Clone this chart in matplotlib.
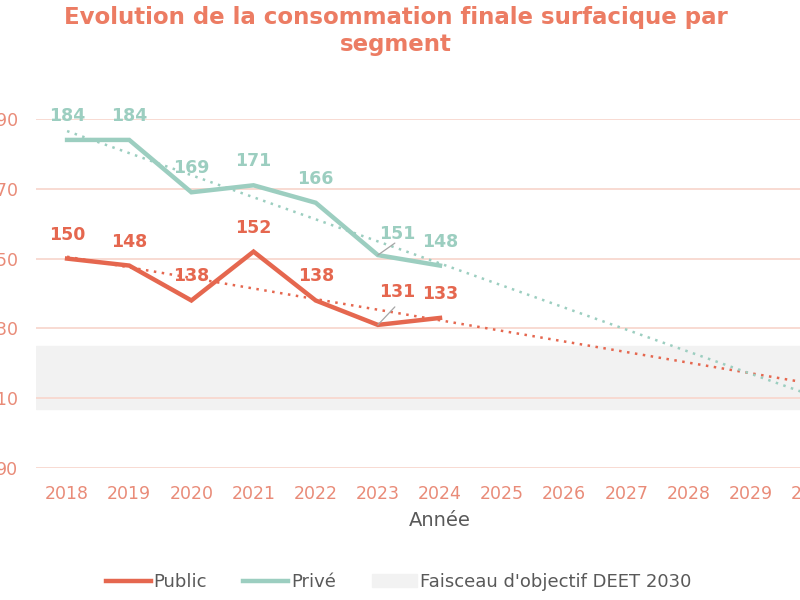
import matplotlib
matplotlib.use("Agg")
import matplotlib.pyplot as plt
import numpy as np

RED = "#E5674F"
TEAL = "#9CCEC0"
TICK_COLOR = "#E98B78"
TITLE_COLOR = "#EC7C63"
GRID_COLOR = "#F8D8CF"
BAND_COLOR = "#F2F2F2"
GREY_TEXT = "#595959"

years = ["2018", "2019", "2020", "2021", "2022", "2023", "2024",
         "2025", "2026", "2027", "2028", "2029", "2030"]
public = [150, 148, 138, 152, 138, 131, 133]
prive = [184, 184, 169, 171, 166, 151, 148]
band_low, band_high = 107, 125
yticks = [90, 110, 130, 150, 170, 190]

plt.rcParams.update({"font.family": "DejaVu Sans"})

fig = plt.figure(figsize=(8, 6), dpi=100)
ax = fig.add_axes([36 / 800, 0.22, 808 / 800, 0.5817])

x_all = np.arange(len(years))
x_obs = np.arange(len(public))

ax.axhspan(band_low, band_high, color=BAND_COLOR, zorder=0,
           label="Faisceau d'objectif DEET 2030")

# linear trendlines (like the spreadsheet trendline), projected to 2030
for values, color in [(public, RED), (prive, TEAL)]:
    slope, icpt = np.polyfit(x_obs, values, 1)
    ax.plot(x_all, slope * x_all + icpt, linestyle=(0, (1, 2.2)),
            color=color, lw=1.8, zorder=2)

ax.plot(x_obs, public, color=RED, lw=3.2, label="Public", zorder=3,
        solid_joinstyle="miter")
ax.plot(x_obs, prive, color=TEAL, lw=3.2, label="Privé", zorder=3,
        solid_joinstyle="miter")

# data labels
for values, color in [(public, RED), (prive, TEAL)]:
    for i, v in enumerate(values):
        if i == 5:
            dx, dy = 19, 33 if values is public else 21
            ax.annotate(str(v), (i, v), xytext=(dx, dy), textcoords="offset pixels",
                        ha="center", va="center", fontsize=12.5, fontweight="bold",
                        color=color, zorder=5)
            ax.annotate("", (i, v), xytext=(dx - 2, dy - 15 if values is public else dy - 9),
                        textcoords="offset pixels",
                        arrowprops=dict(arrowstyle="-", color="#A6A6A6", lw=0.9,
                                        shrinkA=0, shrinkB=0))
        else:
            ax.annotate(str(v), (i, v), xytext=(0, 24), textcoords="offset pixels",
                        ha="center", va="center", fontsize=12.5, fontweight="bold",
                        color=color, zorder=5)

ax.set_xlim(-0.5, len(years) - 0.5)
ax.set_ylim(90, 190)
ax.set_xticks(x_all)
ax.set_xticklabels(years)
ax.set_yticks(yticks)
ax.yaxis.grid(True, color=GRID_COLOR, lw=1.3, zorder=1)
ax.set_axisbelow(True)
for s in ax.spines.values():
    s.set_visible(False)
ax.tick_params(axis="both", length=0, labelsize=12.5, labelcolor=TICK_COLOR)
ax.tick_params(axis="x", pad=12)
ax.tick_params(axis="y", pad=13)
ax.set_xlabel("Année", fontsize=14, color=GREY_TEXT, labelpad=6)

fig.text(0.495, 1 - 6 / 600,
         "Evolution de la consommation finale surfacique par\nsegment",
         ha="center", va="top", fontsize=16.5, fontweight="bold",
         color=TITLE_COLOR, linespacing=1.25)

handles, labels = ax.get_legend_handles_labels()
order = [labels.index("Public"), labels.index("Privé"),
         labels.index("Faisceau d'objectif DEET 2030")]
leg = fig.legend([handles[i] for i in order], [labels[i] for i in order],
                 loc="center", bbox_to_anchor=(0.498, 1 - 582 / 600), ncol=3,
                 frameon=False, fontsize=13, handlelength=2.5,
                 handletextpad=0.15, columnspacing=2.0)
for t in leg.get_texts():
    t.set_color(GREY_TEXT)

fig.savefig("out.png", dpi=100)
